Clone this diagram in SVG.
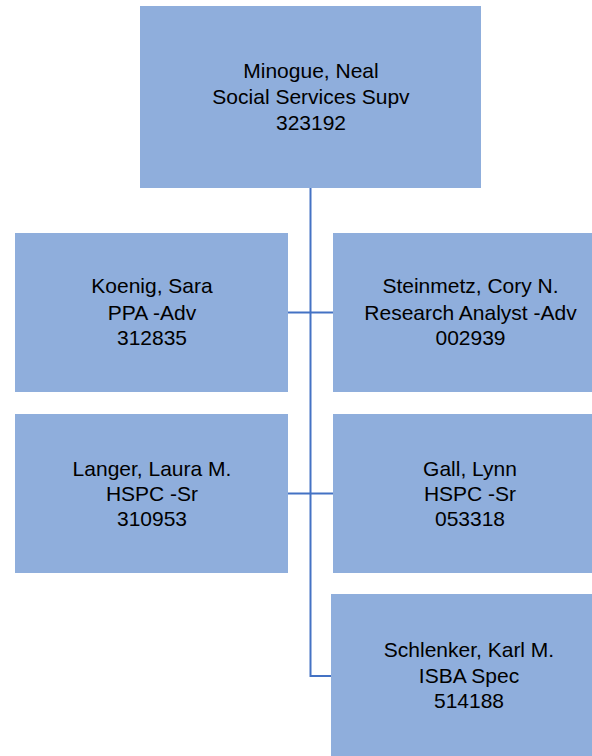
<svg xmlns="http://www.w3.org/2000/svg" width="592" height="756" viewBox="0 0 592 756">
<style>
.box{fill:#8FAEDC;stroke:none}
.t{font-family:"Liberation Sans",Arial,sans-serif;font-size:21px;fill:#000;text-anchor:middle}
.c{stroke:#4472C4;stroke-width:2;fill:none}
</style>
<rect width="592" height="756" fill="#fff"/>
<g id="connectors">
<path class="c" d="M310.5,188 V676 H331"/>
<path class="c" d="M288,312.5 H333"/>
<path class="c" d="M288,493.5 H333"/>
</g>
<g id="minogue">
<rect class="box" x="140" y="6" width="341" height="182"/>
<text class="t" x="311" y="78">Minogue, Neal</text>
<text class="t" x="311" y="104">Social Services Supv</text>
<text class="t" x="311" y="130">323192</text>
</g>
<g id="koenig">
<rect class="box" x="15" y="233" width="273" height="159"/>
<text class="t" x="152" y="293">Koenig, Sara</text>
<text class="t" x="152" y="319.5">PPA -Adv</text>
<text class="t" x="152" y="345">312835</text>
</g>
<g id="steinmetz">
<rect class="box" x="333" y="233" width="275" height="159"/>
<text class="t" x="470.5" y="293">Steinmetz, Cory N.</text>
<text class="t" x="470.5" y="319.5">Research Analyst -Adv</text>
<text class="t" x="470.5" y="345">002939</text>
</g>
<g id="langer">
<rect class="box" x="15" y="414" width="273" height="159"/>
<text class="t" x="152" y="476">Langer, Laura M.</text>
<text class="t" x="152" y="501">HSPC -Sr</text>
<text class="t" x="152" y="526">310953</text>
</g>
<g id="gall">
<rect class="box" x="333" y="414" width="275" height="159"/>
<text class="t" x="470" y="476">Gall, Lynn</text>
<text class="t" x="470" y="501">HSPC -Sr</text>
<text class="t" x="470" y="526">053318</text>
</g>
<g id="schlenker">
<rect class="box" x="331" y="594" width="277" height="162"/>
<text class="t" x="469" y="657">Schlenker, Karl M.</text>
<text class="t" x="469" y="683">ISBA Spec</text>
<text class="t" x="469" y="708">514188</text>
</g>
</svg>
